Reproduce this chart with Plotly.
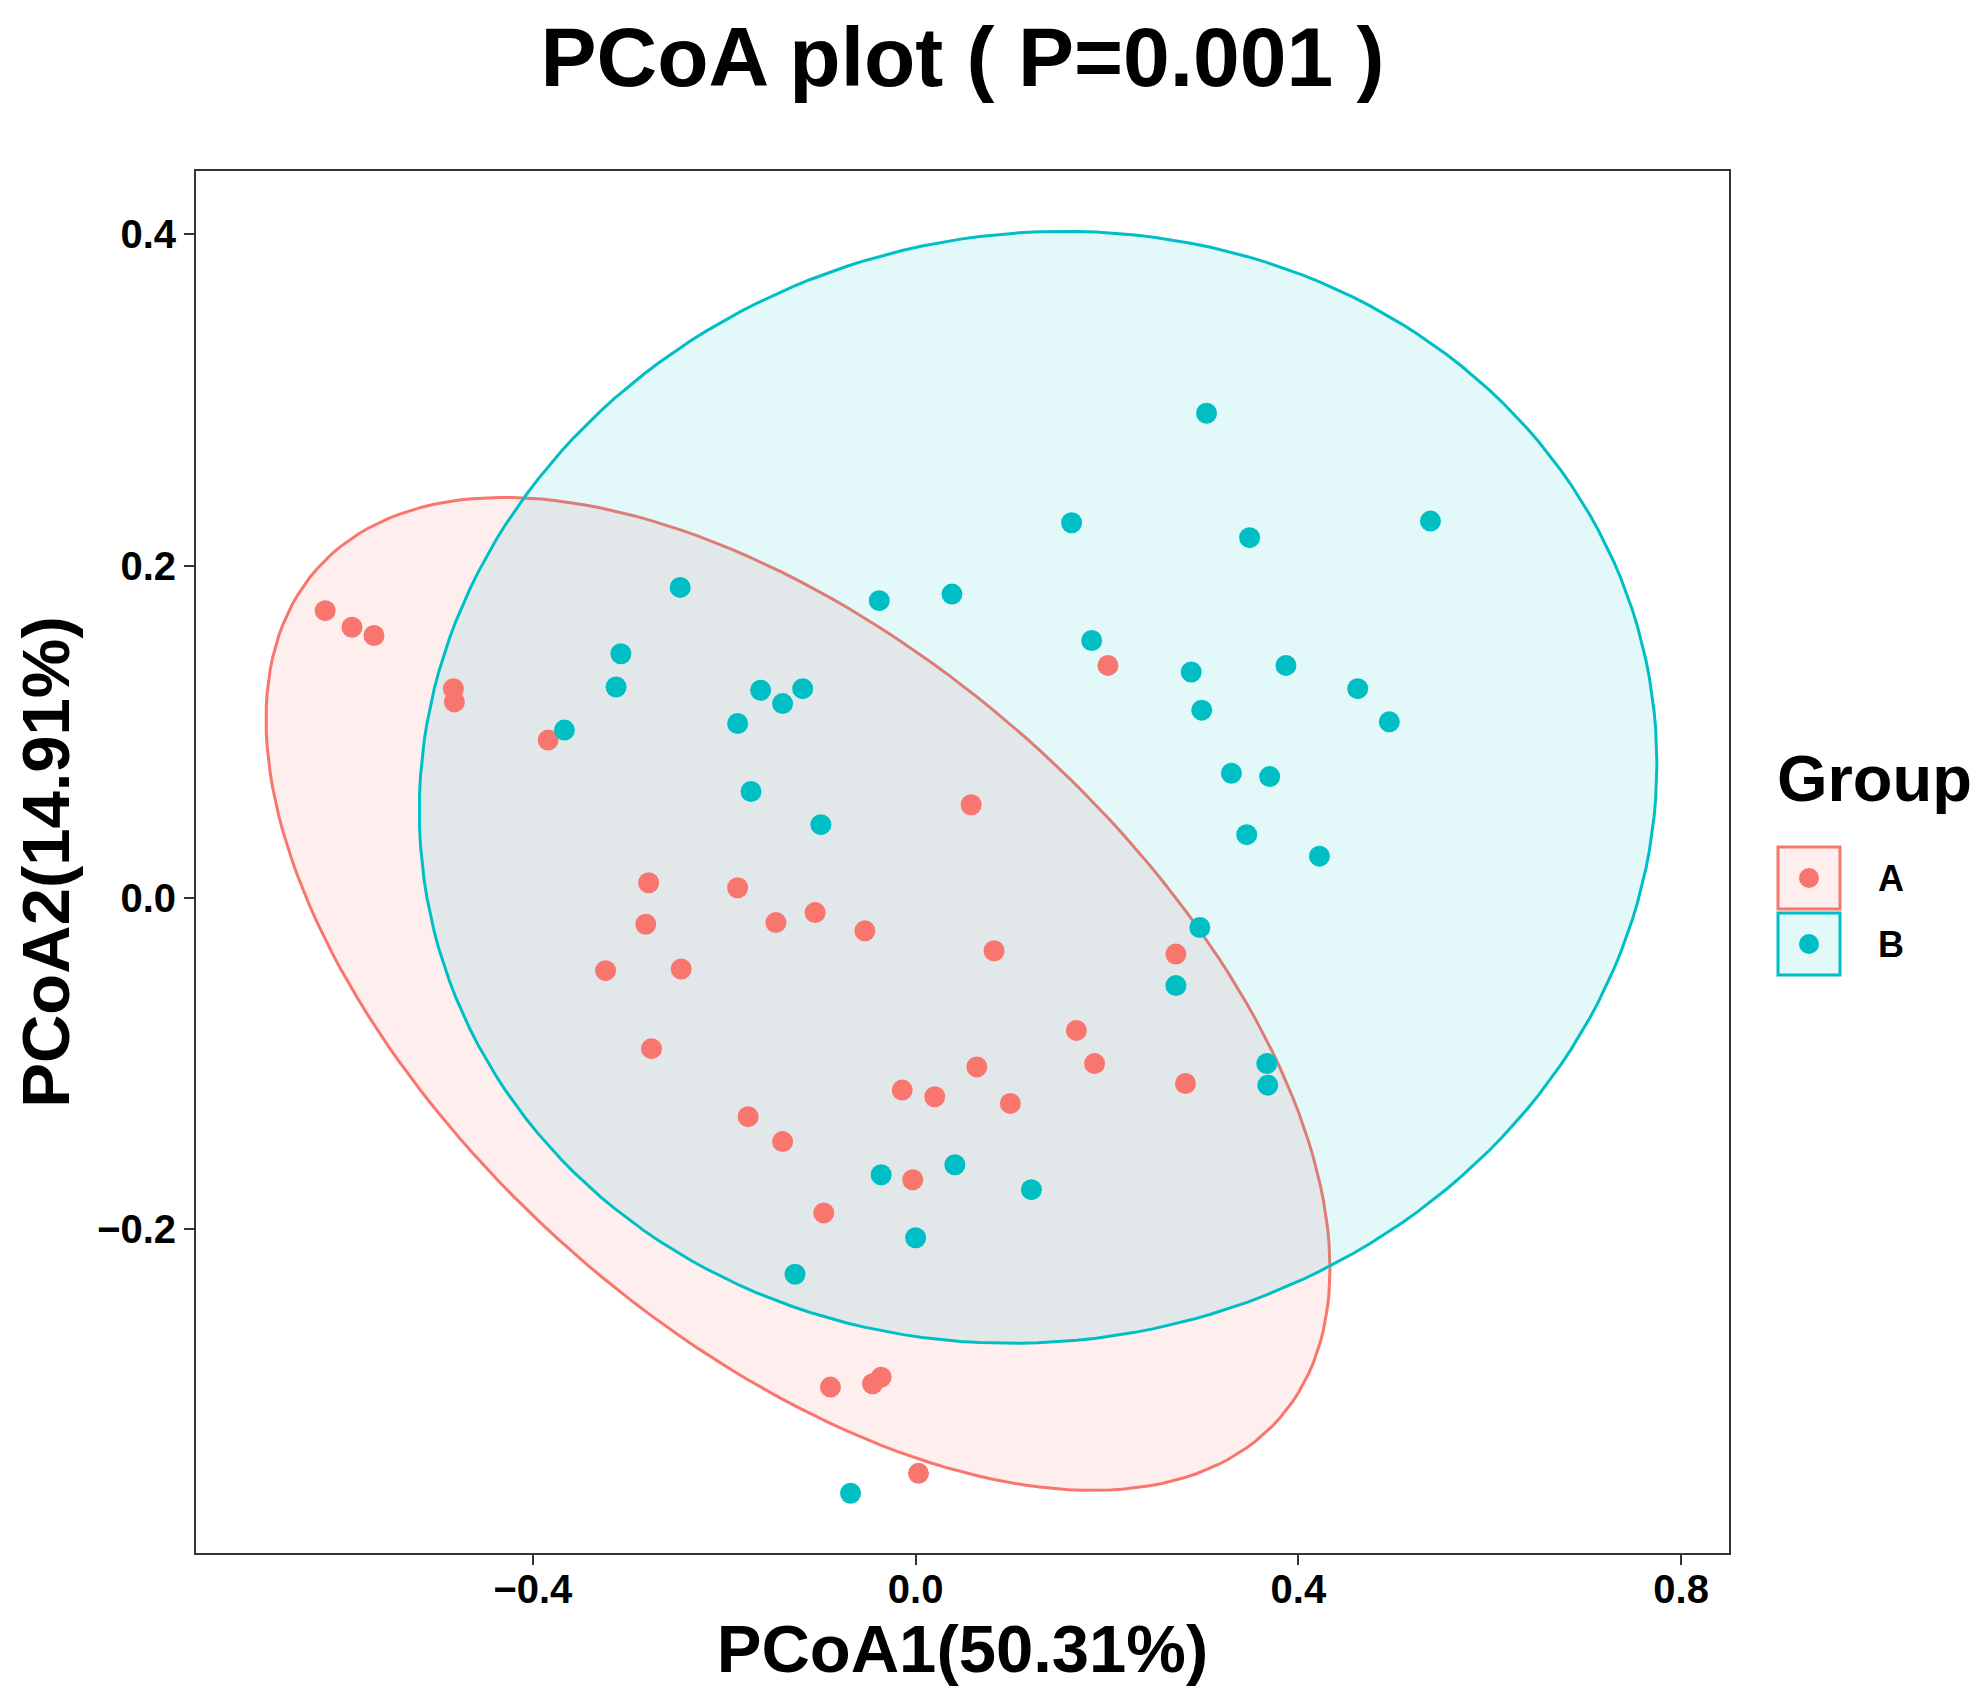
import numpy as np
import plotly.graph_objects as go

# PCoA scores
groups = ["A", "B"]
colors = ["#F8766D", "#00BFC4"]
fills = ["rgba(248,118,109,0.12)", "rgba(0,191,196,0.11)"]

a_x = [-0.617, -0.589, -0.566, -0.483, -0.482, -0.384, 0.201, 0.058, -0.279, -0.186,
       -0.282, -0.146, -0.105, -0.053, 0.082, -0.324, -0.245, 0.272, -0.276, 0.168,
       0.187, 0.064, 0.282, -0.014, 0.020, 0.099, -0.175, -0.139, -0.003, -0.096,
       -0.089, -0.045, -0.036, 0.003]
a_y = [0.173, 0.163, 0.158, 0.126, 0.118, 0.095, 0.140, 0.056, 0.009, 0.006,
       -0.016, -0.015, -0.009, -0.020, -0.032, -0.044, -0.043, -0.034, -0.091, -0.080,
       -0.100, -0.102, -0.112, -0.116, -0.120, -0.124, -0.132, -0.147, -0.170, -0.190,
       -0.295, -0.293, -0.289, -0.347]

b_x = [0.304, 0.163, 0.538, 0.349, -0.246, -0.038, 0.038, 0.184, -0.308, -0.313,
       0.288, 0.387, 0.462, 0.299, 0.495, -0.162, -0.118, -0.139, -0.186, -0.367,
       -0.172, -0.099, 0.330, 0.370, 0.346, 0.422, 0.297, 0.272, 0.367, 0.368,
       -0.036, 0.041, 0.121, 0.000, -0.126, -0.068]
b_y = [0.292, 0.226, 0.227, 0.217, 0.187, 0.179, 0.183, 0.155, 0.147, 0.127,
       0.136, 0.140, 0.126, 0.113, 0.106, 0.125, 0.126, 0.117, 0.105, 0.101,
       0.064, 0.044, 0.075, 0.073, 0.038, 0.025, -0.018, -0.053, -0.100, -0.113,
       -0.167, -0.161, -0.176, -0.205, -0.227, -0.359]

x_ticks = [-0.4, 0.0, 0.4, 0.8]
y_ticks = [-0.2, 0.0, 0.2, 0.4]

# page body has an 8px margin, so the figure is a bit smaller than the window
W, H = 1967, 1685
L, R, T, B = 188, 246, 163, 140


def cov_trob(X, nu=5, maxit=25, tol=0.01):
    # same idea as MASS::cov.trob used by ggplot's stat_ellipse
    n, p = X.shape
    wt = np.ones(n)
    loc = X.mean(axis=0)
    w = np.sqrt(wt)
    for _ in range(maxit):
        w0 = w
        Xc = X - loc
        _, d, vt = np.linalg.svd(np.sqrt(w / w.sum())[:, None] * Xc, full_matrices=False)
        wX = Xc @ vt.T @ np.diag(1 / d)
        Q = (wX ** 2).sum(axis=1)
        w = wt * (nu + p) / (nu + Q)
        loc = (w[:, None] * X).sum(axis=0) / w.sum()
        if np.all(np.abs(w - w0) < tol):
            break
    sw = np.sqrt(w)[:, None] * Xc
    return loc, sw.T @ sw / wt.sum()


def ellipse(xs, ys, level=0.95, segments=200):
    X = np.column_stack([xs, ys])
    center, shape = cov_trob(X)
    d = len(xs) - 1
    qf = d / 2 * ((1 - level) ** (-2 / d) - 1)   # F(2, d) quantile
    radius = np.sqrt(2 * qf)
    chol = np.linalg.cholesky(shape).T
    t = np.linspace(0, 2 * np.pi, segments + 1)
    circle = np.column_stack([np.cos(t), np.sin(t)])
    pts = center + radius * circle @ chol
    return pts[:, 0], pts[:, 1]


def fmt(v):
    return f"{v:.1f}".replace("-", "\u2212")


data = [(a_x, a_y), (b_x, b_y)]

fig = go.Figure()

for (xs, ys), g, c, f in zip(data, groups, colors, fills):
    ex, ey = ellipse(xs, ys)
    fig.add_trace(go.Scatter(x=ex, y=ey, mode="lines", fill="toself", fillcolor=f,
                             line=dict(color=c, width=3), hoverinfo="skip",
                             showlegend=False))

for (xs, ys), g, c in zip(data, groups, colors):
    fig.add_trace(go.Scatter(x=xs, y=ys, mode="markers", name=g,
                             marker=dict(color=c, size=21), showlegend=False))

axis_font = dict(family="Liberation Sans", size=40, color="black", weight="bold")
title_font = dict(family="Liberation Sans", size=67, color="black", weight="bold")

fig.update_layout(
    width=W, height=H,
    margin=dict(l=L, r=R, t=T, b=B),
    paper_bgcolor="white", plot_bgcolor="white",
    title=dict(text="PCoA plot ( P=0.001 )", x=0.5, xref="paper", xanchor="center",
               y=1 - 49 / H, yref="container", yanchor="middle",
               font=dict(family="Liberation Sans", size=84, color="black", weight="bold")),
)
fig.update_xaxes(range=[-0.752, 0.850], tickvals=x_ticks, ticktext=[fmt(v) for v in x_ticks],
                 showgrid=False, zeroline=False, showline=True, mirror=True,
                 linecolor="#333333", linewidth=2, ticks="outside", ticklen=10,
                 tickwidth=2, tickcolor="#333333", tickfont=axis_font,
                 ticklabelstandoff=-10,
                 title=dict(text="PCoA1(50.31%)", font=title_font, standoff=8))
fig.update_yaxes(range=[-0.395, 0.438], tickvals=y_ticks, ticktext=[fmt(v) for v in y_ticks],
                 showgrid=False, zeroline=False, showline=True, mirror=True,
                 linecolor="#333333", linewidth=2, ticks="outside", ticklen=10,
                 tickwidth=2, tickcolor="#333333", tickfont=axis_font,
                 title=dict(text="PCoA2(14.91%)", font=title_font, standoff=31))

# legend in ggplot style: boxed keys with a dot


def px(xp):
    return (xp - L) / (W - L - R)


def py(yp):
    return (H - B - yp) / (H - T - B)


fig.add_annotation(text="Group", x=px(1767), y=py(770), xref="paper", yref="paper",
                   xanchor="left", yanchor="middle", showarrow=False,
                   font=dict(family="Liberation Sans", size=65, color="black", weight="bold"))
key_y = [870, 936]
for g, c, f, ky in zip(groups, colors, fills, key_y):
    fig.add_shape(type="rect", xref="paper", yref="paper", xsizemode="pixel", ysizemode="pixel",
                  xanchor=px(1801), yanchor=py(ky), x0=-31, x1=31, y0=-31, y1=31,
                  line=dict(color=c, width=3), fillcolor=f)
    fig.add_shape(type="circle", xref="paper", yref="paper", xsizemode="pixel", ysizemode="pixel",
                  xanchor=px(1801), yanchor=py(ky), x0=-10, x1=10, y0=-10, y1=10,
                  line=dict(width=0), fillcolor=c)
    fig.add_annotation(text=g, x=px(1868), y=py(ky), xref="paper", yref="paper",
                       xanchor="left", yanchor="middle", showarrow=False,
                       font=dict(family="Liberation Sans", size=36, color="black", weight="bold"))

fig.write_html("out.html")
